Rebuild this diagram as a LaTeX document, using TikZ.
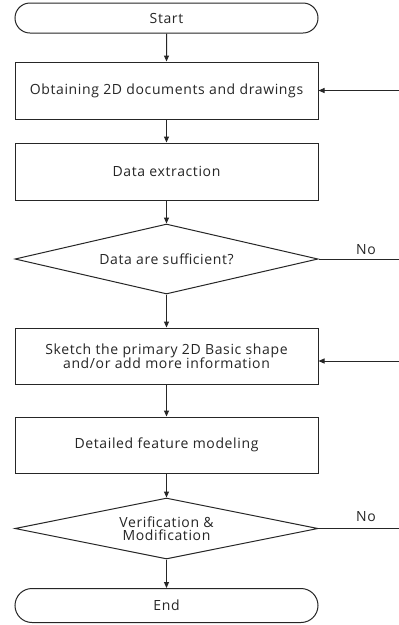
\documentclass[tikz,border=0pt]{standalone}
\usepackage{fontspec}
\setmainfont[LetterSpace=4.5]{Open Sans}
\usetikzlibrary{shapes.geometric,shapes.misc,arrows.meta}
\begin{document}
\begin{tikzpicture}[x=1pt,y=-1pt,
  every node/.style={font=\fontsize{14}{17}\selectfont, text=black!85},
  line/.style={draw=black!85, line width=1pt},
  arr/.style={line, -{Triangle[length=6pt,width=5pt]}},
  procbox/.style={line, rectangle, minimum width=303pt, minimum height=57pt, inner sep=0pt, align=center},
  termbox/.style={line, rounded rectangle, minimum width=303pt, minimum height=30pt, inner sep=0pt},
  decbox/.style={line, diamond, aspect=4.3, minimum width=303pt, minimum height=70pt, inner sep=0pt, align=center},
  lbl/.style={font=\fontsize{14}{17}\selectfont}
]
\useasboundingbox[fill=white] (0,0) rectangle (399,625);

\node[termbox] (start) at (166.5,18) {Start};
\node[procbox] (b1) at (166.5,90.5) {Obtaining 2D documents and drawings};
\node[procbox] (b2) at (166.5,171.5) {Data extraction};
\node[decbox] (d1) at (166.5,259) {Data are sufficient?};
\node[procbox, minimum height=56pt] (b3) at (166.5,356) {Sketch the primary 2D Basic shape\\[-3.5pt]and/or add more information};
\node[procbox, minimum height=56pt] (b4) at (166.5,445) {Detailed feature modeling};
\node[decbox, minimum height=61pt] (d2) at (166.5,528.5) {Verification \&\\[-3.5pt]Modification};
\node[termbox, minimum height=34pt] (end) at (166.5,605.5) {End};

\coordinate (r1) at (399,90.5);
\coordinate (r2) at (399,361);
\coordinate (n1) at (399,259);
\coordinate (n2) at (399,528.5);

\draw[arr] (start) -- (b1);
\draw[arr] (b1) -- (b2);
\draw[arr] (b2) -- (d1);
\draw[arr] (d1) -- (b3);
\draw[arr] (b3) -- (b4);
\draw[arr] (b4) -- (d2);
\draw[arr] (d2) -- (end);

\draw[arr] (r1) -- (b1.east |- r1);
\draw[arr] (r2) -- (b3.east |- r2);
\draw[line] (d1.east) -- (n1);
\draw[line] (d2.east) -- (n2);

\node[lbl] (no1) at (366,250) {No};
\node[lbl] (no2) at (366,517) {No};
\end{tikzpicture}
\end{document}
